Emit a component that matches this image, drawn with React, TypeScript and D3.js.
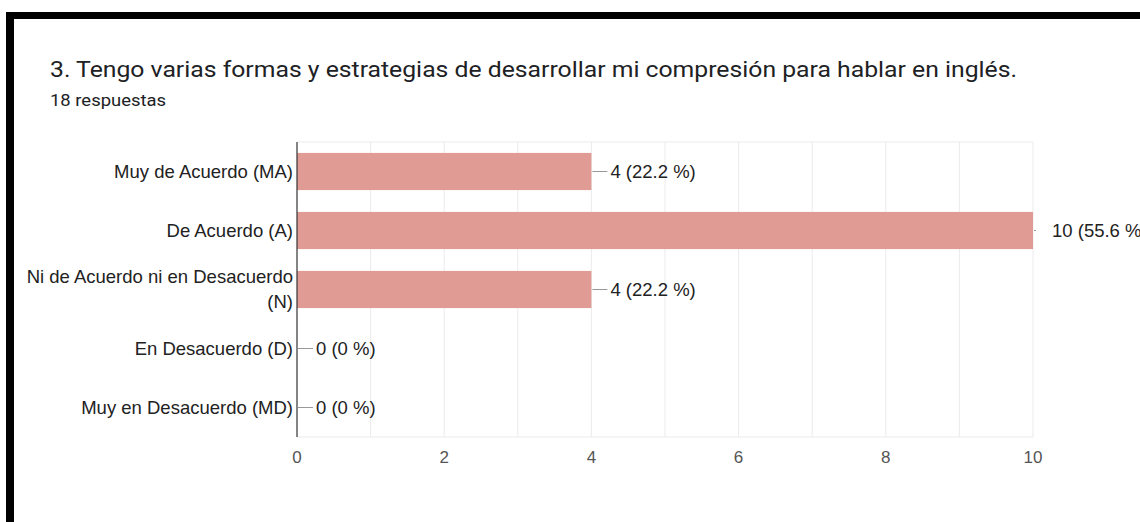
import React from "react";
import * as d3 from "d3";

const title = "3. Tengo varias formas y estrategias de desarrollar mi compresión para hablar en inglés.";
const subtitle = "18 respuestas";
const categories = [
  "Muy de Acuerdo (MA)",
  "De Acuerdo (A)",
  "Ni de Acuerdo ni en Desacuerdo (N)",
  "En Desacuerdo (D)",
  "Muy en Desacuerdo (MD)",
];
const counts = [4, 10, 4, 0, 0];
const percents = ["22.2", "55.6", "22.2", "0", "0"];
const xTicks = [0, 2, 4, 6, 8, 10];
const gridValues = [1, 2, 3, 4, 5, 6, 7, 8, 9, 10];

function wrap(label: string, maxChars: number): string[] {
  const words = label.split(" ");
  const lines: string[] = [];
  let cur = "";
  for (const w of words) {
    const next = cur ? cur + " " + w : w;
    if (next.length > maxChars && cur) {
      lines.push(cur);
      cur = w;
    } else cur = next;
  }
  if (cur) lines.push(cur);
  return lines;
}

export default function App() {
  const W = 1140, H = 522;
  const left = 297, right = 1033, top = 142, bottom = 437;
  const x = d3.scaleLinear().domain([0, 10]).range([left, right]);
  const y = d3
    .scaleBand<string>()
    .domain(categories)
    .range([top, bottom])
    .paddingInner(0.37)
    .paddingOuter(0.185);
  const labelFont = "'Liberation Sans', Arial, sans-serif";
  return (
    <svg
      width={W}
      height={H}
      style={{ position: "absolute", left: 0, top: 0, background: "#fff" }}
    >
      <rect x={0} y={0} width={W} height={H} fill="#fff" />
      {/* black frame */}
      <rect x={6} y={12} width={W - 6} height={7} fill="#000" />
      <rect x={6} y={12} width={8} height={H - 12} fill="#000" />
      <text
        x={50}
        y={77}
        fontFamily="Roboto, sans-serif"
        fontSize={22}
        fill="#202124"
        textLength={967}
        lengthAdjust="spacingAndGlyphs"
      >
        {title}
      </text>
      <text
        x={50}
        y={106}
        fontFamily="Roboto, sans-serif"
        fontSize={17}
        fill="#202124"
        textLength={116}
        lengthAdjust="spacingAndGlyphs"
      >
        {subtitle}
      </text>
      {/* grid */}
      {gridValues.map((v) => (
        <line key={"g" + v} x1={x(v)} x2={x(v)} y1={top} y2={bottom} stroke="#ebebeb" strokeWidth={1} />
      ))}
      <line x1={left} x2={right} y1={top} y2={top} stroke="#ebebeb" />
      <line x1={left} x2={right} y1={bottom} y2={bottom} stroke="#ebebeb" />
      {/* bars */}
      {categories.map((c, i) => (
        <rect
          key={"b" + c}
          x={x(0)}
          y={y(c)!}
          width={x(counts[i]) - x(0)}
          height={y.bandwidth()}
          fill="#e09c94"
        />
      ))}
      {/* axis line */}
      <line x1={left} x2={left} y1={top} y2={bottom} stroke="#333" strokeWidth={1.2} />
      {/* category labels */}
      {categories.map((c) => {
        const lines = wrap(c, 30);
        const cy = y(c)! + y.bandwidth() / 2;
        const lh = 25;
        const start = cy - ((lines.length - 1) * lh) / 2;
        return (
          <text key={"l" + c} textAnchor="end" fontFamily={labelFont} fontSize={18.5} fill="#222">
            {lines.map((ln, j) => (
              <tspan key={j} x={left - 4} y={start + j * lh} dy="0.35em">
                {ln}
              </tspan>
            ))}
          </text>
        );
      })}
      {/* value labels */}
      {categories.map((c, i) => {
        const ex = x(counts[i]);
        const cy = y(c)! + y.bandwidth() / 2;
        const lx2 = Math.min(ex + 16, right + 3);
        return (
          <g key={"v" + c}>
            <line x1={ex + 1} x2={lx2} y1={cy} y2={cy} stroke="#999" strokeWidth={1} />
            <text x={ex + 19} y={cy} dy="0.35em" fontFamily={labelFont} fontSize={18.5} fill="#222">
              {`${counts[i]} (${percents[i]} %)`}
            </text>
          </g>
        );
      })}
      {/* x tick labels */}
      {xTicks.map((t) => (
        <text
          key={"t" + t}
          x={x(t)}
          y={457}
          dy="0.35em"
          textAnchor="middle"
          fontFamily={labelFont}
          fontSize={17}
          fill="#555"
        >
          {t}
        </text>
      ))}
    </svg>
  );
}
